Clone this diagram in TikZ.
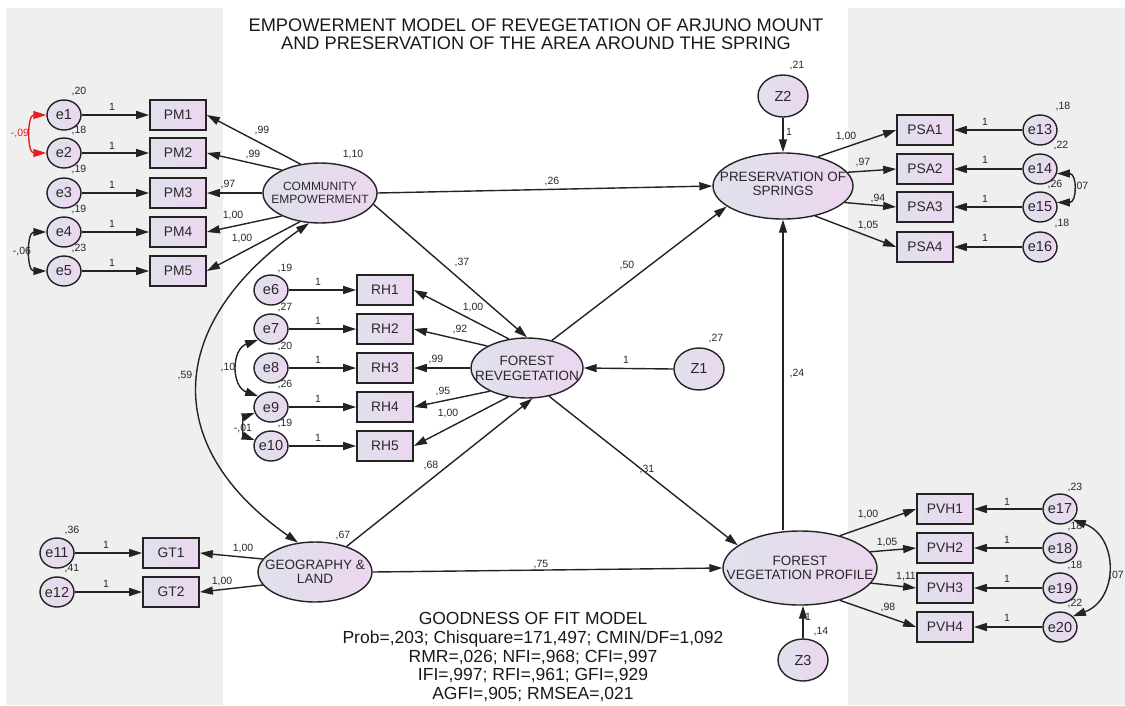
\documentclass[tikz,border=0pt]{standalone}
\usepackage{fontspec}
\setmainfont{Liberation Sans}
\usetikzlibrary{arrows.meta,shapes.geometric,calc}
\definecolor{bgg}{RGB}{239,239,239}
\definecolor{fillL}{RGB}{224,225,236}
\definecolor{fillR}{RGB}{236,214,240}
\definecolor{linec}{RGB}{35,35,35}
\definecolor{txt}{RGB}{40,40,40}
\definecolor{covred}{RGB}{232,30,30}
\tikzset{
  lv/.style={ellipse, draw=linec, line width=1.4pt, left color=fillL, right color=fillR, inner sep=0pt},
  lvt/.style={align=center, text=txt, inner sep=0pt, font=\fontsize{13.5}{14}\selectfont},
  obs/.style={rectangle, draw=linec, line width=1.7pt, left color=fillL, right color=fillR, minimum width=56pt, minimum height=30pt, inner sep=0pt, text=txt, font=\fontsize{13.8}{14}\selectfont},
  err/.style={ellipse, draw=linec, line width=1.4pt, left color=fillL, right color=fillR, minimum width=34pt, minimum height=30pt, inner sep=0pt},
  zz/.style={minimum width=50pt, minimum height=42pt},
  errt/.style={text=txt, inner sep=0pt, font=\fontsize{14.5}{15}\selectfont},
  lab/.style={text=txt, inner sep=0pt, font=\fontsize{10.5}{11}\selectfont},
  arr/.style={draw=linec, line width=1.4pt, -{Triangle[length=13pt,width=8pt]}},
  cov/.style={draw=linec, line width=1.4pt, {Triangle[length=13pt,width=8pt]}-{Triangle[length=13pt,width=8pt]}},
  titlet/.style={align=center, inner sep=0pt, text=black!90, font=\fontsize{18.2}{18.5}\selectfont},
  goft/.style={align=center, inner sep=0pt, text=black!90, font=\fontsize{17.5}{18.6}\selectfont}
}
\newcommand\mkerr[4][]{\node[err,#1] (#2) at (#3) {}; \node[errt] (#2t) at (#2) {#4};}
\newcommand\mklab[3]{\node[lab] (#1) at (#2) {#3};}
\begin{document}
\begin{tikzpicture}[x=1pt,y=-1pt]
\useasboundingbox (0,0) rectangle (1125,705);
\fill[bgg] (6,8) rectangle (223,705);
\fill[bgg] (848,8) rectangle (1125,705);

\node[titlet] (title) at (536,34) {EMPOWERMENT MODEL OF REVEGETATION OF ARJUNO MOUNT\\AND PRESERVATION OF THE AREA AROUND THE SPRING};
\node[goft] (gof) at (533,657) {GOODNESS OF FIT MODEL\\Prob=,203; Chisquare=171,497; CMIN/DF=1,092\\RMR=,026; NFI=,968; CFI=,997\\IFI=,997; RFI=,961; GFI=,929\\AGFI=,905; RMSEA=,021};

% latent variables
\node[lv, minimum width=114pt, minimum height=60pt] (ce) at (320,193) {};
\node[lvt, font=\fontsize{12}{12.5}\selectfont] (cet) at (ce) {COMMUNITY\\EMPOWERMENT};
\node[lv, minimum width=112pt, minimum height=60pt] (fr) at (527,368) {};
\node[lvt, font=\fontsize{13.5}{15}\selectfont] (frt) at (fr) {FOREST\\REVEGETATION};
\node[lv, minimum width=140pt, minimum height=66pt] (ps) at (783,186) {};
\node[lvt, font=\fontsize{13.5}{13.5}\selectfont] (pst) at ([yshift=2pt]ps.center) {PRESERVATION OF\\SPRINGS};
\node[lv, minimum width=114pt, minimum height=60pt] (gl) at (315,572) {};
\node[lvt] (glt) at (gl) {GEOGRAPHY \&\\LAND};
\node[lv, minimum width=154pt, minimum height=74pt] (fvp) at (800,568) {};
\node[lvt] (fvpt) at (fvp) {FOREST\\VEGETATION PROFILE};

% disturbances
\mkerr[zz]{z1}{699,369}{Z1}
\mkerr[zz]{z2}{783,96}{Z2}
\mkerr[zz]{z3}{803,660}{Z3}

% PM block
\foreach \i/\y in {1/115,2/153,3/193,4/232,5/271}{
  \node[obs] (pm\i) at (178,\y) {PM\i};
  \mkerr{e\i}{64,\y}{e\i}
}
% RH block
\foreach \i/\j/\y in {1/6/290,2/7/329,3/8/368,4/9/407,5/10/446}{
  \node[obs] (rh\i) at (385,\y) {RH\i};
  \mkerr{e\j}{271,\y}{e\j}
}
% PSA block
\foreach \i/\j/\y in {1/13/130,2/14/169,3/15/207,4/16/247}{
  \node[obs] (psa\i) at (925,\y) {PSA\i};
  \mkerr{e\j}{1040,\y}{e\j}
}
% PVH block
\foreach \i/\j/\y in {1/17/509,2/18/548,3/19/588,4/20/627}{
  \node[obs] (pvh\i) at (945,\y) {PVH\i};
  \mkerr{e\j}{1060,\y}{e\j}
}
% GT block
\node[obs] (gt1) at (171,553) {GT1};
\node[obs] (gt2) at (171,592) {GT2};
\mkerr{e11}{57,553}{e11}
\mkerr{e12}{57,592}{e12}

% error -> indicator
\foreach \i in {1,...,5}{\draw[arr] (e\i.east) -- (pm\i.west);}
\foreach \i/\j in {1/6,2/7,3/8,4/9,5/10}{\draw[arr] (e\j.east) -- (rh\i.west);}
\foreach \i/\j in {1/13,2/14,3/15,4/16}{\draw[arr] (e\j.west) -- (psa\i.east);}
\foreach \i/\j in {1/17,2/18,3/19,4/20}{\draw[arr] (e\j.west) -- (pvh\i.east);}
\draw[arr] (e11.east) -- (gt1.west);
\draw[arr] (e12.east) -- (gt2.west);

% loadings
\draw[arr] (ce.124) -- (pm1.east);
\draw[arr] (ce.149) -- (pm2.east);
\draw[arr] (ce.180) -- (pm3.east);
\draw[arr] (ce.211) -- (pm4.east);
\draw[arr] (ce.235) -- (pm5.east);
\draw[arr] (fr.122) -- (rh1.east);
\draw[arr] (fr.151) -- (rh2.east);
\draw[arr] (fr.180) -- (rh3.east);
\draw[arr] (fr.212) -- (rh4.east);
\draw[arr] (fr.237) -- (rh5.east);
\draw[arr] (ps.40) -- (psa1.west);
\draw[arr] (ps.12) -- (psa2.west);
\draw[arr] (ps.-15) -- (psa3.west);
\draw[arr] (ps.-43) -- (psa4.west);
\draw[arr] (fvp.39) -- (pvh1.west);
\draw[arr] (fvp.13) -- (pvh2.west);
\draw[arr] (fvp.-12) -- (pvh3.west);
\draw[arr] (fvp.-39) -- (pvh4.west);
\draw[arr] (gl.166) -- (gt1.east);
\draw[arr] (gl.194) -- (gt2.east);

% structural paths
\draw[arr] (ce.-12) -- (fr.north);
\draw[arr] (ce.east) -- (ps.west);
\draw[arr] (fr.48) -- (ps.200);
\draw[arr] (z1.west) -- (fr.east);
\draw[arr] (gl.39) -- (fr.-80);
\draw[arr] (fr.-52) -- (fvp.160);
\draw[arr] (gl.east) -- (fvp.west);
\draw[arr] (fvp.north -| ps.south) -- (ps.south);
\draw[arr] (z2.south) -- (ps.north);
\draw[arr] (z3.north) -- (z3.north |- fvp.south);

% covariances
\draw[cov, draw=covred] (e1.west) to[out=180,in=180,looseness=1.3] (e2.west);
\draw[cov] (e4.west) to[out=180,in=180,looseness=1.3] (e5.west);
\draw[cov] (e7.220) to[out=200,in=160,looseness=1.3] (e9.140);
\draw[cov] (e9.200) to[out=200,in=160,looseness=1.2] (e10.160);
\draw[cov] (e14.-15) to[out=0,in=0,looseness=1.8] (e15.15);
\draw[cov] (e17.-40) to[out=-20,in=20,looseness=1.3] (e20.40);
\draw[cov] (ce.250) to[out=215,in=145,looseness=1.37] (gl.120);

% labels: variances
\mklab{v1}{79,92}{,20}
\mklab{v2}{79,131}{,18}
\mklab{v3}{79,170}{,19}
\mklab{v4}{79,209}{,19}
\mklab{v5}{79,248}{,23}
\mklab{v6}{285,268}{,19}
\mklab{v7}{285,307}{,27}
\mklab{v8}{285,346}{,20}
\mklab{v9}{285,384}{,26}
\mklab{v10}{285,423}{,19}
\mklab{v11}{72,530}{,36}
\mklab{v12}{72,569}{,41}
\mklab{v13}{1063,107}{,18}
\mklab{v14}{1061,146}{,22}
\mklab{v15}{1055,184}{,26}
\mklab{v16}{1062,223}{,18}
\mklab{v17}{1075,487}{,23}
\mklab{v18}{1075,526}{,18}
\mklab{v19}{1075,565}{,18}
\mklab{v20}{1075,603}{,22}
\mklab{vce}{353,155}{1,10}
\mklab{vgl}{343,535}{,67}
\mklab{vz1}{716,338}{,27}
\mklab{vz2}{797,66}{,21}
\mklab{vz3}{821,632}{,14}
% labels: fixed 1
\foreach \y [count=\k] in {107,146,185,224,263}{\mklab{o\k}{112,\y}{1}}
\foreach \y [count=\k] in {282,321,360,399,438}{\mklab{p\k}{318,\y}{1}}
\foreach \y [count=\k] in {122,160,199,238}{\mklab{q\k}{985,\y}{1}}
\foreach \y [count=\k] in {502,540,579,618}{\mklab{r\k}{1007,\y}{1}}
\mklab{s1}{106,545}{1}
\mklab{s2}{106,584}{1}
\mklab{sz1}{626,360}{1}
\mklab{sz2}{789,132}{1}
\mklab{sz3}{808,617}{1}
% labels: covariances
\node[lab, text=covred] (c12) at (20,134) {-,09};
\mklab{c45}{22,251}{-,06}
\mklab{c79}{228,367}{,10}
\mklab{c910}{243,428}{-,01}
\mklab{c1415}{1081,186}{,07}
\node[lab, anchor=east] (c1720) at (1124,575) {,07};
\mklab{cceg}{185,375}{,59}
% labels: loadings
\mklab{a1}{262,131}{,99}
\mklab{a2}{253,154}{,99}
\mklab{a3}{228,185}{,97}
\mklab{a4}{233,215}{1,00}
\mklab{a5}{242,238}{1,00}
\mklab{b1}{473,307}{1,00}
\mklab{b2}{460,329}{,92}
\mklab{b3}{436,359}{,99}
\mklab{b4}{443,391}{,95}
\mklab{b5}{448,413}{1,00}
\mklab{d1}{846,137}{1,00}
\mklab{d2}{863,162}{,97}
\mklab{d3}{878,198}{,94}
\mklab{d4}{868,225}{1,05}
\mklab{f1}{868,514}{1,00}
\mklab{f2}{887,542}{1,05}
\mklab{f3}{906,577}{1,11}
\mklab{f4}{888,607}{,98}
\mklab{g1}{243,548}{1,00}
\mklab{g2}{222,581}{1,00}
% labels: structural
\mklab{h1}{462,262}{,37}
\mklab{h2}{552,182}{,26}
\mklab{h3}{627,265}{,50}
\mklab{h4}{431,465}{,68}
\mklab{h5}{647,469}{,31}
\mklab{h6}{541,565}{,75}
\mklab{h7}{797,373}{,24}
\end{tikzpicture}
\end{document}
